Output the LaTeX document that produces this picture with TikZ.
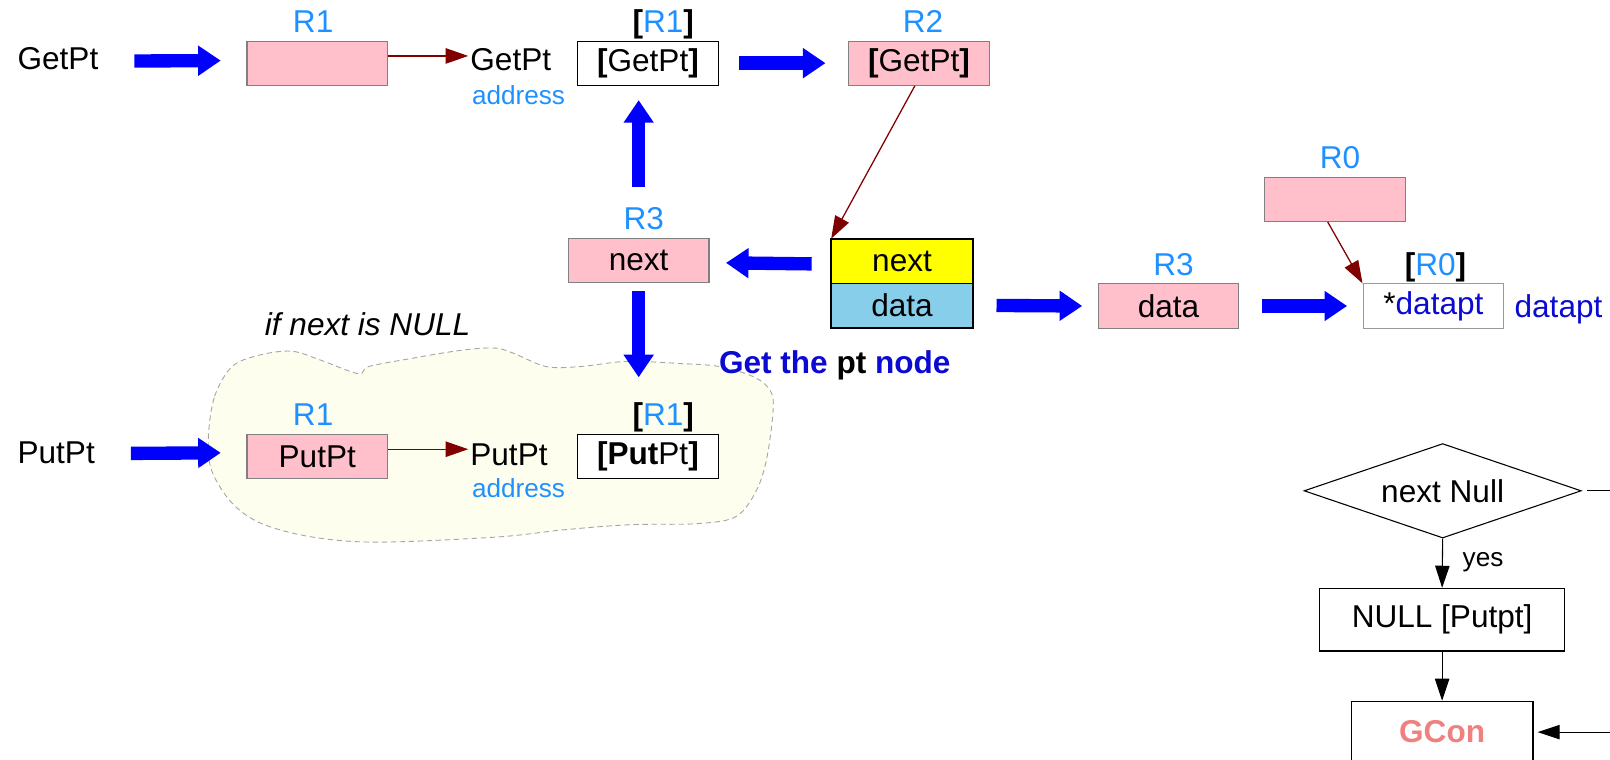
\documentclass[tikz,border=0pt]{standalone}
\usepackage{fontspec}
\setmainfont{Liberation Sans}
\usepackage{tikz}
\usetikzlibrary{arrows.meta,shapes.geometric}
\definecolor{regpink}{RGB}{255,192,203}
\definecolor{lblue}{RGB}{30,144,255}
\definecolor{dblue}{RGB}{10,10,210}
\definecolor{ptrred}{RGB}{128,0,0}
\definecolor{nextyel}{RGB}{255,255,0}
\definecolor{datasky}{RGB}{135,206,235}
\definecolor{gcoral}{RGB}{240,128,128}
\definecolor{cloudfill}{RGB}{254,254,238}
\newcommand{\mainsz}{\fontsize{17.5}{21}\selectfont}
\newcommand{\smallsz}{\fontsize{14.5}{17}\selectfont}

\begin{document}
\begin{tikzpicture}[x=0.02cm, y=-0.02cm,
    every node/.style={font=\mainsz, inner sep=1pt},
    regbox/.style={draw=gray, line width=0.6pt, fill=regpink, minimum width=2.74cm, minimum height=0.86cm, inner sep=0pt},
    valbox/.style={draw=black, line width=0.6pt, fill=white, minimum width=2.74cm, minimum height=0.86cm, inner sep=0pt},
    fieldbox/.style={draw=black, line width=0.6pt, minimum width=2.74cm, minimum height=0.86cm, inner sep=0pt},
    reglbl/.style={anchor=base, text=lblue},
    fat/.style={draw=blue, line width=0.26cm, -{Triangle[length=0.44cm,width=0.56cm]}},
    ptr/.style={draw=ptrred, line width=0.7pt, -{Triangle[length=0.44cm,width=0.3cm]}},
    flow/.style={draw=black, line width=0.6pt, -{Triangle[length=0.43cm,width=0.28cm]}},
    fbox/.style={draw=black, line width=0.6pt, minimum height=1.22cm, inner sep=0pt}]
\useasboundingbox (0,0) rectangle (1568,740);
\clip (0,0) rectangle (1568,740);

\draw[gray!70, dash pattern=on 3pt off 2pt, line width=0.5pt, fill=cloudfill]
    plot[smooth cycle, tension=0.55] coordinates {(203,425) (209,386) (226,357) (252,346) (284,342) (313,351) (349,364) (359,357) (401,349) (450,341) (482,339) (500,344) (532,357) (565,357) (610,352) (662,354) (701,357) (734,367) (750,380) (753,399) (747,445) (737,477) (717,503) (679,510) (614,511) (549,516) (484,523) (368,528) (304,523) (255,510) (226,490) (206,458)};

\node[anchor=base west] (getL) at (15,68) {GetPt};
\node[regbox] (r1g) at (309,61.5) {};
\node[reglbl] (r1gl) at (305,31.5) {R1};
\node[anchor=base west] (gaddr) at (456,69) {GetPt};
\node[anchor=base, text=lblue, font=\smallsz] (gaddrl) at (505,101.5) {address};
\node[valbox] (r1v) at (631,61.5) {\textbf{[}GetPt\textbf{]}};
\node[anchor=base] (r1vl) at (646,31.5) {\textbf{[}\textcolor{lblue}{R1}\textbf{]}};
\node[regbox] (r2) at (895,61.5) {\textbf{[}GetPt\textbf{]}};
\node[reglbl] (r2l) at (899,31.5) {R2};

\node[regbox] (r3n) at (622,253.5) {next};
\node[reglbl] (r3nl) at (627,223.5) {R3};
\node[fieldbox, fill=nextyel] (ndn) at (878.5,254.5) {next};
\node[fieldbox, fill=datasky] (ndd) at (878.5,297.5) {data};
\draw[line width=1.2pt] (ndn.north west) rectangle (ndd.south east);
\node[anchor=base, font=\mainsz\bfseries] (gtp) at (813,364) {\textcolor{dblue}{Get the} pt \textcolor{dblue}{node}};

\node[regbox] (r3d) at (1138,298) {data};
\node[reglbl] (r3dl) at (1143,268.5) {R3};
\node[regbox] (r0) at (1300,194) {};
\node[reglbl] (r0l) at (1305,164.5) {R0};
\node[valbox, draw=gray!80] (dp) at (1396,298) {*\textcolor{dblue}{datapt}};
\node[anchor=base] (dpl) at (1398,268.5) {\textbf{[}\textcolor{lblue}{R0}\textbf{]}};
\node[anchor=base west, text=dblue] (dpt) at (1473,309) {datapt};

\node[anchor=base, font=\mainsz\itshape] (ifn) at (358,327) {if next is NULL};
\node[anchor=base west] (putL) at (15,451) {PutPt};
\node[regbox] (r1p) at (309,444.5) {PutPt};
\node[reglbl] (r1pl) at (305,414.5) {R1};
\node[anchor=base west] (paddr) at (456,453) {PutPt};
\node[anchor=base, text=lblue, font=\smallsz] (paddrl) at (505,484.5) {address};
\node[valbox] (r1pv) at (631,444.5) {\textbf{[Put}Pt\textbf{]}};
\node[anchor=base] (r1pvl) at (646,414.5) {\textbf{[}\textcolor{lblue}{R1}\textbf{]}};

\draw[fat] ([xshift=0.66cm,yshift=-0.04cm]getL.east) -- ([xshift=-0.5cm,yshift=0.05cm]r1g.west);
\draw[fat] ([xshift=0.39cm]r1v.east) -- ([xshift=-0.44cm]r2.west);
\draw[fat] ([yshift=0.98cm]r3n.north) -- ([yshift=-0.28cm]r3n.north |- r1v.south);
\draw[fat] ([xshift=-0.38cm,yshift=-0.05cm]ndn.west) -- ([xshift=0.32cm,yshift=-0.05cm]r3n.east);
\draw[fat] ([yshift=-0.16cm]r3n.south) -- ([yshift=1.1cm]r3n.south |- r1pv.north);
\draw[fat] ([xshift=0.46cm]ndd.east) -- ([xshift=-0.3cm]r3d.west);
\draw[fat] ([xshift=0.44cm]r3d.east) -- ([xshift=-0.3cm]dp.west);
\draw[fat] ([xshift=0.66cm,yshift=-0.02cm]putL.east) -- ([xshift=-0.5cm,yshift=0.07cm]r1p.west);

\draw[ptr] ([yshift=0.14cm]r1g.east) -- ([yshift=0.14cm]r1g.east -| gaddr.west);
\draw[ptr] ([xshift=-0.08cm]r2.south) -- (ndn.north west);
\draw[ptr] ([xshift=-0.14cm]r0.south) -- (dp.north west);
\draw[ptr] ([yshift=0.14cm]r1p.east) -- ([yshift=0.14cm]r1p.east -| paddr.west);

\node[draw, shape=diamond, aspect=2.9, minimum width=5.4cm, minimum height=1.84cm, inner sep=0pt, line width=0.6pt] (dia) at (1405,478) {next Null};
\node[fbox, minimum width=4.78cm] (np) at (1404.5,603.5) {NULL [Putpt]};
\node[fbox, minimum width=3.54cm, minimum height=1.2cm, text=gcoral, font=\mainsz\bfseries] (gc) at (1404.5,713) {GCon};
\coordinate (rOut) at (1568,478);
\coordinate (gIn) at (1568,713);
\draw[line width=0.6pt] ([xshift=0.1cm]dia.east) -- (rOut);
\draw[flow] (dia.south) -- node[pos=0.47, right=0.35cm, font=\smallsz] (yes) {yes} (np.north);
\draw[flow] (np.south) -- (gc.north);
\draw[flow, shorten >=0.08cm] (gIn) -- (gc.east);
\end{tikzpicture}
\end{document}
